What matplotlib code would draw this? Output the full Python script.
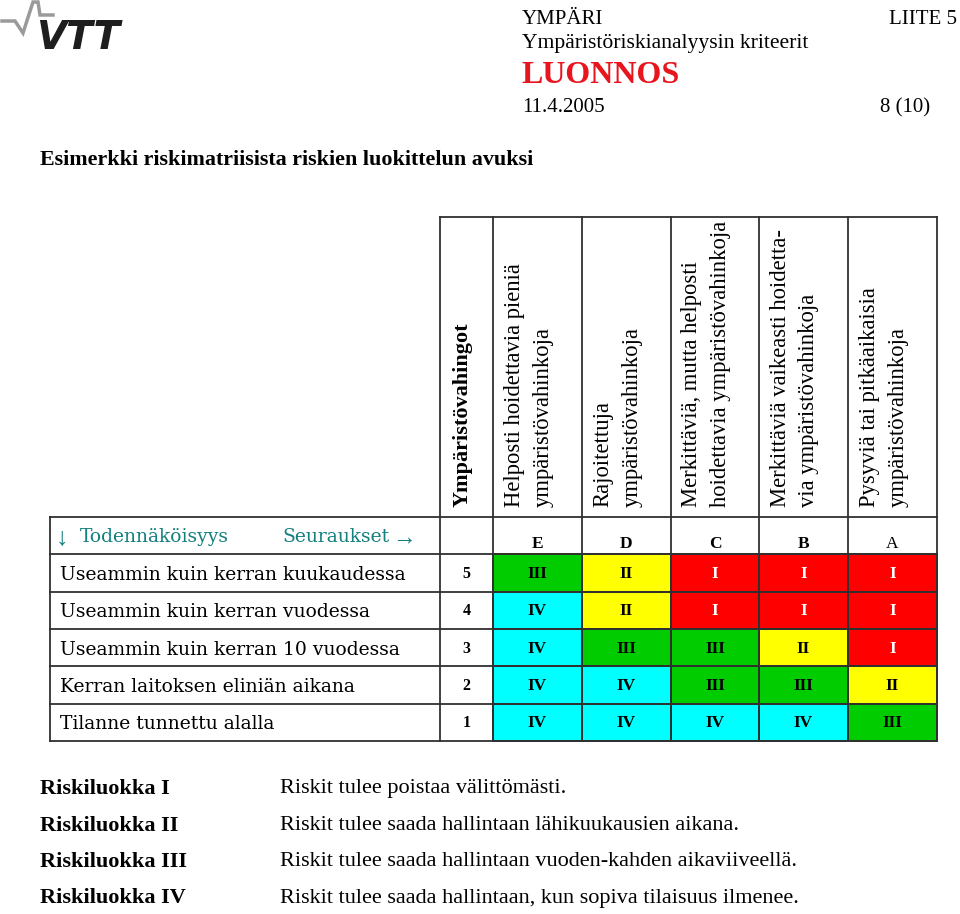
import matplotlib
matplotlib.use("Agg")
import matplotlib.pyplot as plt
from matplotlib.patches import Rectangle

# ---------------- data ----------------
consequence_codes = ["E", "D", "C", "B", "A"]
consequence_labels = [
    "Helposti hoidettavia pieniä\nympäristövahinkoja",
    "Rajoitettuja\nympäristövahinkoja",
    "Merkittäviä, mutta helposti\nhoidettavia ympäristövahinkoja",
    "Merkittäviä vaikeasti hoidetta-\nvia ympäristövahinkoja",
    "Pysyviä tai pitkäaikaisia\nympäristövahinkoja",
]
likelihood_labels = [
    "Useammin kuin kerran kuukaudessa",
    "Useammin kuin kerran vuodessa",
    "Useammin kuin kerran 10 vuodessa",
    "Kerran laitoksen eliniän aikana",
    "Tilanne tunnettu alalla",
]
likelihood_levels = ["5", "4", "3", "2", "1"]
risk_matrix = [
    ["III", "II", "I", "I", "I"],
    ["IV", "II", "I", "I", "I"],
    ["IV", "III", "III", "II", "I"],
    ["IV", "IV", "III", "III", "II"],
    ["IV", "IV", "IV", "IV", "III"],
]
risk_classes = ["I", "II", "III", "IV"]
class_colors = ["#ff0000", "#ffff00", "#00cc00", "#00ffff"]
class_text_colors = ["white", "black", "black", "black"]
class_descriptions = [
    "Riskit tulee poistaa välittömästi.",
    "Riskit tulee saada hallintaan lähikuukausien aikana.",
    "Riskit tulee saada hallintaan vuoden-kahden aikaviiveellä.",
    "Riskit tulee saada hallintaan, kun sopiva tilaisuus ilmenee.",
]

# ---------------- layout ----------------
SERIF = ["Liberation Serif", "DejaVu Serif"]
WIDE = ["DejaVu Serif"]
W, H = 960, 914
fig = plt.figure(figsize=(W / 100, H / 100), dpi=100)
ax = fig.add_axes([0, 0, 1, 1])
ax.set_xlim(0, W)
ax.set_ylim(H, 0)
ax.axis("off")

line_c = "#303030"
lw = 1.3

# header of page
ax.text(522, 24, "YMPÄRI", family=SERIF, fontsize=15, va="baseline")
ax.text(957, 24, "LIITE 5", family=SERIF, fontsize=15, va="baseline", ha="right")
ax.text(522, 48, "Ympäristöriskianalyysin kriteerit", family=SERIF, fontsize=15.6, va="baseline")
ax.text(522, 83, "LUONNOS", family=SERIF, fontsize=23, weight="bold", color="#e8141e", va="baseline")
ax.text(522, 112, "11.4.2005", family=SERIF, fontsize=15, va="baseline")
ax.text(930, 112, "8 (10)", family=SERIF, fontsize=15, va="baseline", ha="right")
ax.text(40, 165, "Esimerkki riskimatriisista riskien luokittelun avuksi", family=SERIF,
        fontsize=15.8, weight="bold", va="baseline")

# VTT logo
ax.plot([2, 15, 23, 33, 38, 40, 53], [21, 21, 33, 2, 2, 15, 15], color="#9a9a9a", lw=2.5,
        solid_joinstyle="miter")
ax.text(36, 49, "VTT", family="DejaVu Sans", fontsize=28, weight="heavy", style="italic",
        color="#1e1e1e", va="baseline")

# table geometry
col_edges = [50, 440, 493, 582, 671, 759, 848, 937]
head_top, head_bot = 217, 517
row_h = (741 - 517) / 6
row_edges = [head_bot + row_h * k for k in range(7)]
n_rows, n_cols = len(likelihood_labels), len(consequence_codes)

# coloured risk cells
for i in range(n_rows):
    for j in range(n_cols):
        cls = risk_classes.index(risk_matrix[i][j])
        x0, x1 = col_edges[2 + j], col_edges[3 + j]
        y0, y1 = row_edges[1 + i], row_edges[2 + i]
        ax.add_patch(Rectangle((x0, y0), x1 - x0, y1 - y0, facecolor=class_colors[cls],
                               edgecolor=line_c, lw=lw))
        ax.text((x0 + x1) / 2, (y0 + y1) / 2 + 1, risk_matrix[i][j], family=SERIF, fontsize=12.5,
                weight="bold", color=class_text_colors[cls], ha="center", va="center")

# likelihood labels / levels
for i in range(n_rows):
    yc = (row_edges[1 + i] + row_edges[2 + i]) / 2
    ax.text(60, yc + 7, likelihood_labels[i], family=WIDE, fontsize=13.5, ha="left",
            va="baseline")
    ax.text((col_edges[1] + col_edges[2]) / 2, yc + 1, likelihood_levels[i], family=SERIF,
            fontsize=11.5, weight="bold", ha="center", va="center")

# consequence codes row
for j in range(n_cols):
    xc = (col_edges[2 + j] + col_edges[3 + j]) / 2
    ax.text(xc, row_edges[0] + 31, consequence_codes[j], family=SERIF, fontsize=12.5,
            weight="bold" if consequence_codes[j] != "A" else "normal", ha="center", va="baseline")

teal = "#14807e"
yt = row_edges[0] + 25
ax.text(56, yt + 2, "↓", family=SERIF, fontsize=18, color=teal, va="baseline")
ax.text(80, yt, "Todennäköisyys", family=WIDE, fontsize=13.5, color=teal, va="baseline")
ax.text(282, yt, "Seuraukset", family=WIDE, fontsize=13.5, color=teal, va="baseline")
ax.text(392, yt + 2, "→", family=SERIF, fontsize=17, color=teal, va="baseline")

# rotated header texts
ax.text((col_edges[1] + col_edges[2]) / 2 - 4, head_bot - 10, "Ympäristövahingot", family=SERIF,
        fontsize=16, weight="bold", rotation=90, ha="center", va="bottom")
for j in range(n_cols):
    xc = (col_edges[2 + j] + col_edges[3 + j]) / 2 - 9
    ax.text(xc, head_bot - 10, consequence_labels[j], family=SERIF, fontsize=16.3, rotation=90,
            ha="center", va="bottom", multialignment="left", linespacing=1.48)

# grid lines
for x in col_edges[1:]:
    ax.plot([x, x], [head_top, row_edges[-1]], color=line_c, lw=lw)
ax.plot([col_edges[0], col_edges[0]], [head_bot, row_edges[-1]], color=line_c, lw=lw)
ax.plot([col_edges[1], col_edges[-1]], [head_top, head_top], color=line_c, lw=lw)
for y in row_edges:
    ax.plot([col_edges[0], col_edges[-1]], [y, y], color=line_c, lw=lw)

# legend of risk classes
leg_y = [789, 826, 862, 898]
for k, cls in enumerate(risk_classes):
    ax.text(40, leg_y[k], "Riskiluokka " + cls, family=SERIF, fontsize=16, weight="bold",
            va="center")
    ax.text(280, leg_y[k], class_descriptions[k], family=SERIF, fontsize=16, va="center")

fig.savefig("out.png", dpi=100)
